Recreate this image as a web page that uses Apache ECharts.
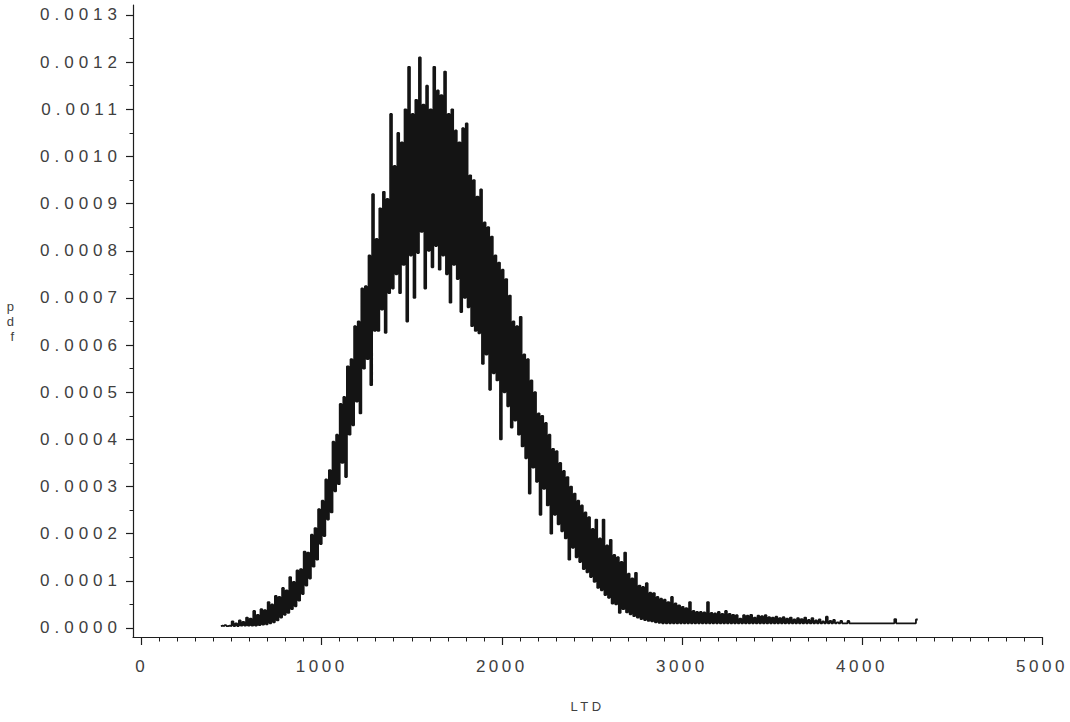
<!DOCTYPE html>
<html>
<head>
<meta charset="utf-8">
<script src="https://cdn.jsdelivr.net/npm/echarts@6/dist/echarts.min.js"></script>
<style>
html,body{margin:0;padding:0;background:#fff;}
#chart{width:1070px;height:722px;}
#chart text{letter-spacing:3.5px;}
#chart text[text-anchor="end"]{letter-spacing:5px;}
</style>
</head>
<body>
<div id="chart"></div>
<script>
// LTD bins (start and width of the histogram-like pdf estimate)
const binStart = 440;
const binStep = 20;

// upper values of the jagged pdf trace in each bin
const pdfHigh = [
0.000005,0.000006,0.000005,0.000014,0.000010,0.000016,0.000013,0.000022,0.000020,0.000036,
0.000028,0.000040,0.000038,0.000055,0.000050,0.000068,0.000066,0.000085,0.000080,0.000108,
0.000098,0.000122,0.000125,0.000162,0.000160,0.000198,0.000212,0.000252,0.000270,0.000315,
0.000335,0.000395,0.000410,0.000475,0.000490,0.000555,0.000570,0.000640,0.000650,0.000720,
0.000725,0.000790,0.000920,0.000825,0.000890,0.000925,0.000910,0.001090,0.000980,0.001050,
0.001030,0.001100,0.001190,0.001090,0.001120,0.001210,0.001110,0.001150,0.001100,0.001190,
0.001140,0.001130,0.001180,0.001090,0.001100,0.001055,0.001030,0.001060,0.001070,0.000960,
0.000950,0.000915,0.000930,0.000860,0.000850,0.000830,0.000790,0.000775,0.000760,0.000740,
0.000705,0.000650,0.000640,0.000660,0.000580,0.000570,0.000525,0.000500,0.000455,0.000450,
0.000435,0.000410,0.000380,0.000375,0.000350,0.000333,0.000320,0.000300,0.000285,0.000270,
0.000260,0.000245,0.000235,0.000210,0.000230,0.000190,0.000230,0.000175,0.000187,0.000155,
0.000150,0.000140,0.000160,0.000115,0.000105,0.000117,0.000090,0.000087,0.000095,0.000075,
0.000074,0.000066,0.000062,0.000060,0.000055,0.000066,0.000052,0.000048,0.000045,0.000042,
0.000055,0.000036,0.000034,0.000034,0.000033,0.000055,0.000032,0.000031,0.000034,0.000030,
0.000036,0.000030,0.000028,0.000027,0.000020,0.000027,0.000026,0.000028,0.000022,0.000026,
0.000025,0.000027,0.000023,0.000022,0.000024,0.000021,0.000023,0.000020,0.000022,0.000018,
0.000021,0.000019,0.000022,0.000017,0.000021,0.000016,0.000018,0.000014,0.000024,0.000015,
0.000017,0.000012,0.000015,0.000010,0.000015,0.000010,0.000010,0.000010,0.000010,0.000010,
0.000010,0.000010,0.000010,0.000010,0.000010,0.000010,0.000010,0.000019,0.000010,0.000010,
0.000010,0.000010,0.000010,0.000018
];

// lower values of the jagged pdf trace in each bin
const pdfLow = [
0.000004,0.000004,0.000004,0.000004,0.000004,0.000004,0.000005,0.000005,0.000005,0.000005,
0.000005,0.000006,0.000007,0.000008,0.000010,0.000012,0.000016,0.000022,0.000028,0.000032,
0.000040,0.000046,0.000058,0.000072,0.000090,0.000105,0.000130,0.000145,0.000178,0.000195,
0.000230,0.000245,0.000290,0.000305,0.000350,0.000320,0.000410,0.000430,0.000480,0.000455,
0.000550,0.000570,0.000515,0.000630,0.000630,0.000675,0.000626,0.000710,0.000720,0.000750,
0.000710,0.000770,0.000650,0.000790,0.000700,0.000795,0.000840,0.000720,0.000800,0.000765,
0.000810,0.000760,0.000790,0.000750,0.000690,0.000770,0.000740,0.000670,0.000700,0.000680,
0.000640,0.000630,0.000625,0.000560,0.000580,0.000505,0.000540,0.000525,0.000400,0.000500,
0.000470,0.000425,0.000440,0.000410,0.000385,0.000360,0.000285,0.000340,0.000310,0.000240,
0.000295,0.000260,0.000200,0.000240,0.000220,0.000205,0.000190,0.000145,0.000170,0.000150,
0.000140,0.000125,0.000118,0.000108,0.000098,0.000085,0.000080,0.000070,0.000064,0.000052,
0.000050,0.000032,0.000040,0.000033,0.000029,0.000025,0.000022,0.000019,0.000017,0.000015,
0.000014,0.000012,0.000011,0.000010,0.000010,0.000010,0.000010,0.000010,0.000010,0.000010,
0.000010,0.000010,0.000010,0.000010,0.000010,0.000010,0.000010,0.000010,0.000010,0.000010,
0.000010,0.000010,0.000010,0.000010,0.000010,0.000010,0.000010,0.000010,0.000010,0.000010,
0.000010,0.000010,0.000010,0.000010,0.000010,0.000010,0.000010,0.000010,0.000010,0.000010,
0.000010,0.000010,0.000010,0.000010,0.000010,0.000010,0.000010,0.000010,0.000010,0.000010,
0.000010,0.000010,0.000010,0.000010,0.000010,0.000010,0.000010,0.000010,0.000010,0.000010,
0.000010,0.000010,0.000010,0.000010,0.000010,0.000010,0.000010,0.000010,0.000010,0.000010,
0.000010,0.000010,0.000010,0.000010
];

// axis ticks / labels
const xMajorTicks = [0, 1000, 2000, 3000, 4000, 5000];
const yMajorTicks = [0, 0.0001, 0.0002, 0.0003, 0.0004, 0.0005, 0.0006, 0.0007, 0.0008, 0.0009, 0.0010, 0.0011, 0.0012, 0.0013];
const xMinorTicks = [];
for (let v = 100; v < 5000; v += 100) { if (v % 1000 !== 0) xMinorTicks.push(v); }
const yMinorTicks = [];
for (let k = 0; k < 13; k++) { yMinorTicks.push(+(yMajorTicks[k] + 0.00005).toFixed(5)); }

// step trace: low then high inside each bin
const trace = [];
for (let i = 0; i < pdfHigh.length; i++) {
  const x = binStart + i * binStep;
  trace.push([x, pdfLow[i]]);
  trace.push([x + binStep / 2, pdfHigh[i]]);
}

const FONT = 'Liberation Sans';
const TXT = '#404040';
const AX = '#1e1e1e';

const chart = echarts.init(document.getElementById('chart'), null, { renderer: 'svg' });
chart.setOption({
  animation: false,
  backgroundColor: '#fff',
  grid: { left: 133, right: 28, top: 5, bottom: 85, containLabel: false, outerBoundsMode: 'none' },
  xAxis: [
    {
      type: 'value', min: -48, max: 5000, position: 'bottom',
      name: 'LTD', nameLocation: 'middle', nameGap: 63,
      nameTextStyle: { fontFamily: FONT, fontSize: 13, color: TXT },
      axisLine: { show: true, onZero: false, lineStyle: { color: AX, width: 1.2 } },
      axisTick: { show: true, inside: false, length: 8, customValues: xMajorTicks, lineStyle: { color: AX, width: 1.2 } },
      axisLabel: { show: true, customValues: xMajorTicks, margin: 21, fontFamily: FONT, fontSize: 17, color: TXT,
        formatter: v => String(v) },
      splitLine: { show: false }
    },
    {
      type: 'value', min: -48, max: 5000, position: 'bottom',
      axisLine: { show: false, onZero: false },
      axisTick: { show: true, inside: false, length: 4.5, customValues: xMinorTicks, lineStyle: { color: AX, width: 1 } },
      axisLabel: { show: false },
      splitLine: { show: false }
    }
  ],
  yAxis: [
    {
      type: 'value', min: -0.00001909, max: 0.0013212, position: 'left',
      name: 'p\nd\nf', nameLocation: 'middle', nameGap: 114, nameRotate: 0,
      nameTextStyle: { fontFamily: FONT, fontSize: 13, color: TXT, lineHeight: 15, padding: [0, 0, 14, 0] },
      axisLine: { show: true, onZero: false, lineStyle: { color: AX, width: 1.2 } },
      axisTick: { show: true, inside: false, length: 7, customValues: yMajorTicks, lineStyle: { color: AX, width: 1.2 } },
      axisLabel: { show: true, customValues: yMajorTicks, margin: 11, fontFamily: FONT, fontSize: 17, color: TXT,
        formatter: v => Number(v).toFixed(4) },
      splitLine: { show: false }
    },
    {
      type: 'value', min: -0.00001909, max: 0.0013212, position: 'left',
      axisLine: { show: false, onZero: false },
      axisTick: { show: true, inside: false, length: 3.5, customValues: yMinorTicks, lineStyle: { color: AX, width: 1 } },
      axisLabel: { show: false },
      splitLine: { show: false }
    }
  ],
  series: [
    {
      type: 'line', xAxisIndex: 0, yAxisIndex: 0,
      data: trace, step: 'start', showSymbol: false, symbol: 'none',
      lineStyle: { color: '#141414', width: 1.8 },
      silent: true
    }
  ]
});
</script>
</body>
</html>
